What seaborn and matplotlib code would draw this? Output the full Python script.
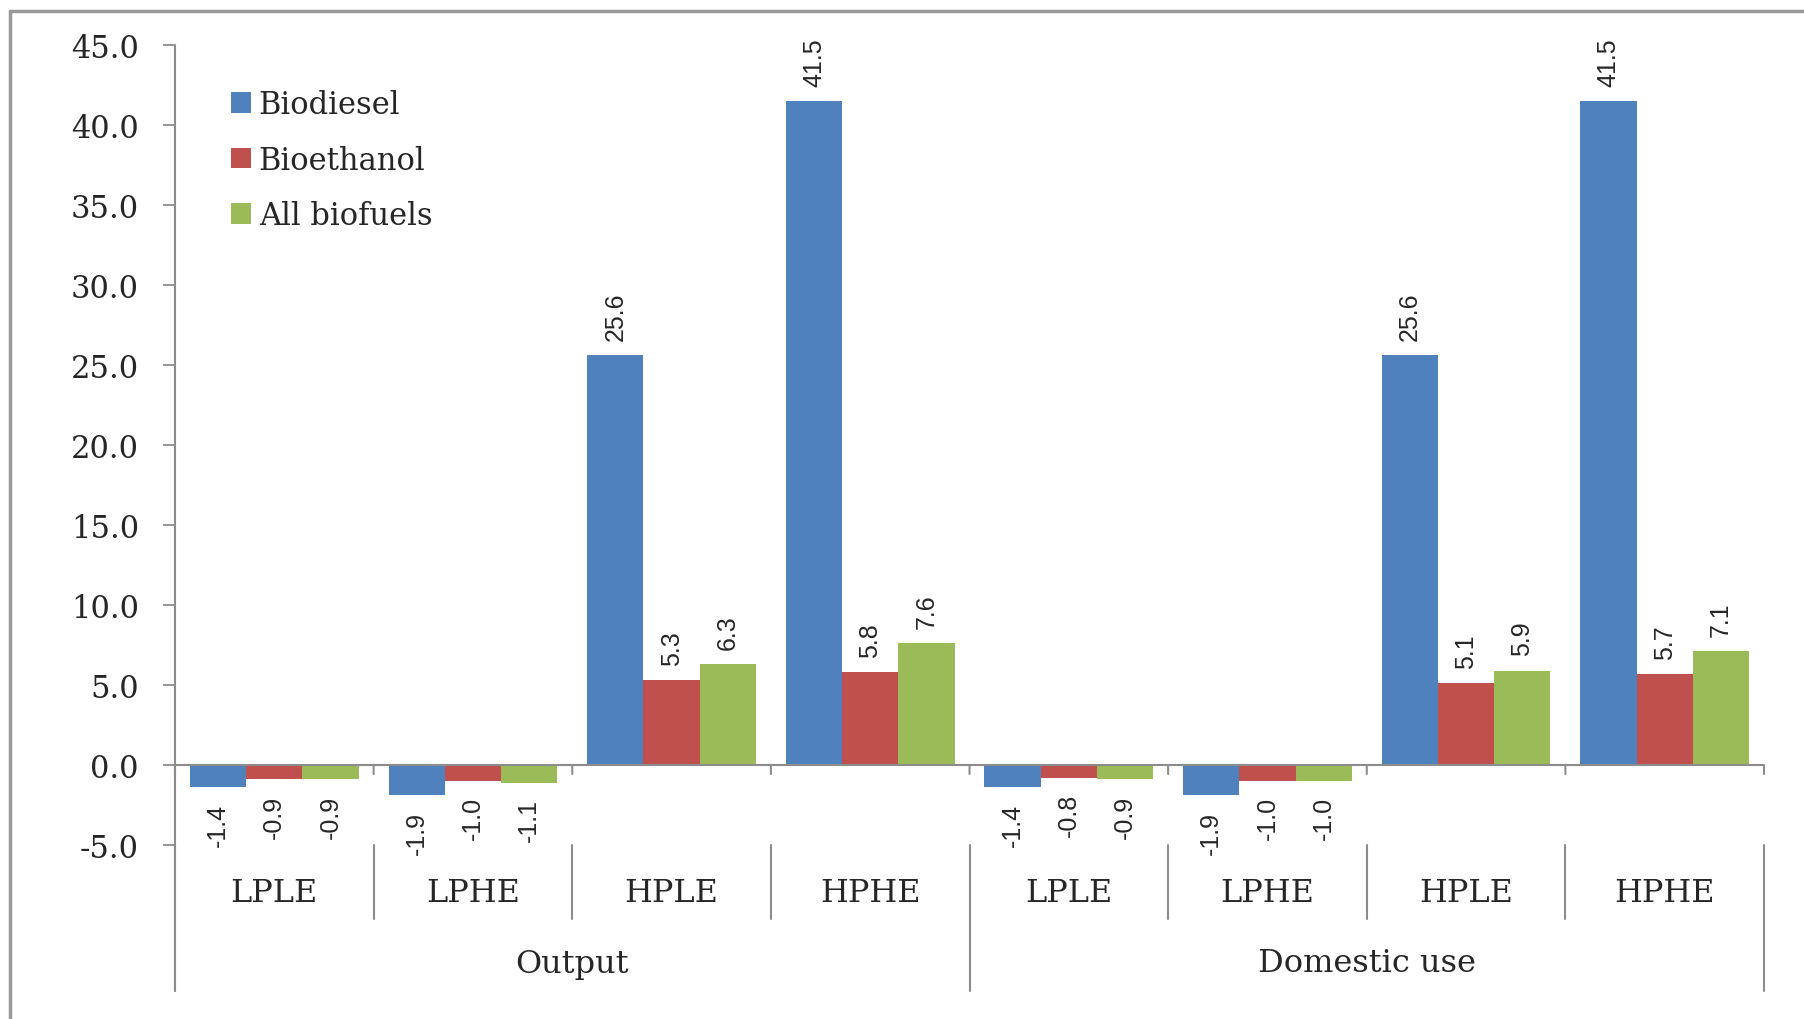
import matplotlib
matplotlib.use("Agg")
import matplotlib.pyplot as plt
import matplotlib.transforms as mtransforms
import pandas as pd
import seaborn as sns
from matplotlib.lines import Line2D
from matplotlib.patches import Patch

groups = ["Output", "Domestic use"]
scenarios = ["LPLE", "LPHE", "HPLE", "HPHE"]
fuels = ["Biodiesel", "Bioethanol", "All biofuels"]

biodiesel = [-1.4, -1.9, 25.6, 41.5, -1.4, -1.9, 25.6, 41.5]
bioethanol = [-0.9, -1.0, 5.3, 5.8, -0.8, -1.0, 5.1, 5.7]
all_biofuels = [-0.9, -1.1, 6.3, 7.6, -0.9, -1.0, 5.9, 7.1]

colors = ["#4F81BD", "#C0504D", "#9BBB59"]
grey = "#8C8C8C"

# long table for seaborn
keys = [f"{g}|{s}" for g in groups for s in scenarios]
rows = []
for fuel, vals in zip(fuels, [biodiesel, bioethanol, all_biofuels]):
    for k, v in zip(keys, vals):
        rows.append({"cat": k, "fuel": fuel, "value": v})
df = pd.DataFrame(rows)

sns.set_style("white")
serif = ["DejaVu Serif"]
sans = ["Liberation Sans", "DejaVu Sans"]

W, H = 1804, 1020
fig = plt.figure(figsize=(W / 100, H / 100), dpi=100)
ax_left, ax_right, ax_top, ax_bot = 175, 1764, 46, 846
ax = fig.add_axes([ax_left / W, 1 - ax_bot / H, (ax_right - ax_left) / W, (ax_bot - ax_top) / H])

sns.barplot(data=df, x="cat", y="value", hue="fuel", order=keys, hue_order=fuels,
            palette=colors, width=0.85, saturation=1, linewidth=0, legend=False, ax=ax)

ax.set_xlim(-0.5, len(keys) - 0.5)
ax.set_ylim(-5, 45)
for s in ax.spines.values():
    s.set_visible(False)
ax.set_xlabel("")
ax.set_ylabel("")

bt = mtransforms.blended_transform_factory(ax.transData, ax.transAxes)

# y axis
ax.set_yticks(range(-5, 50, 5))
ax.set_yticklabels([f"{v:.1f}" for v in range(-5, 50, 5)], family=serif, fontsize=22)
ax.tick_params(axis="y", left=True, length=9, width=1.3, color=grey, pad=17)
ax.plot([-0.5, -0.5], [1, -0.1825], transform=bt, color=grey, lw=1.5, clip_on=False)

# x axis at zero with short boundary ticks
ax.axhline(0, color=grey, lw=1.5)
ax.set_xticks([])
for i in range(len(keys) + 1):
    b = i - 0.5
    ax.annotate("", xy=(b, 0), xycoords="data", xytext=(0, -9), textcoords="offset pixels",
                arrowprops=dict(arrowstyle="-", color=grey, lw=1.5, shrinkA=0, shrinkB=0))

# category dividers below the plot
for i in range(1, len(keys)):
    b = i - 0.5
    if b == 3.5:
        continue
    ax.plot([b, b], [0, -0.0925], transform=bt, color=grey, lw=1.5, clip_on=False)
for b in [-0.5, 3.5, 7.5]:
    ax.plot([b, b], [0, -0.1825], transform=bt, color=grey, lw=1.5, clip_on=False)

# category labels
for i, k in enumerate(keys):
    ax.text(i, -0.059, k.split("|")[1], transform=bt, ha="center", va="center",
            family=serif, fontsize=23)
for j, g in enumerate(groups):
    ax.text(1.5 + 4 * j, -0.1475, g, transform=bt, ha="center", va="center",
            family=serif, fontsize=23)

# data labels
for cont in ax.containers:
    ax.bar_label(cont, fmt="%.1f", rotation=90, padding=11, fontsize=18, family=sans)

# legend
handles = [Patch(facecolor=c, edgecolor="none") for c in colors]
fig.legend(handles, fuels, loc="upper left", bbox_to_anchor=(216 / W, 1 - 75 / H),
           frameon=False, prop={"family": serif, "size": 22}, borderpad=0,
           handlelength=0.65, handleheight=0.65, handletextpad=0.25, labelspacing=0.8)

# outer chart frame (cropped at right and bottom)
fig.add_artist(Line2D([10 / W, 10 / W], [0, 1 - 12 / H], color="#9A9A9A", lw=2.5))
fig.add_artist(Line2D([10 / W, 1], [1 - 12 / H, 1 - 12 / H], color="#9A9A9A", lw=2.5))

fig.savefig("out.png", dpi=100)
